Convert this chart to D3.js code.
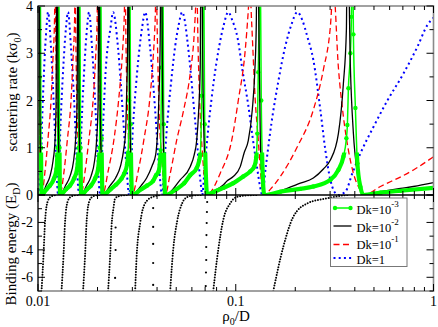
<!DOCTYPE html>
<html><head><meta charset="utf-8">
<script src="https://cdn.jsdelivr.net/npm/d3@7"></script>
<style>
body{margin:0;background:#fff}
svg{display:block}
text{font-family:"Liberation Serif","Times New Roman",serif;fill:#000}
</style>
</head><body>
<svg id="c" width="438" height="327"></svg>
<script>
// ---------------- data (rho0/D, value) ----------------
const dk3 = [ // Dk=1e-3 (green)
[0.01000,0.6],[0.01012,1.2],[0.01018,2.5],[0.01024,6],[0.01036,1.0],[0.01042,0],
[0.01104,0.12],[0.01150,0.2],[0.01205,0.35],[0.01241,0.55],[0.01255,1.0],[0.01263,2.2],[0.01270,6],[0.01285,1.0],[0.01292,0],
[0.01386,0.12],[0.01452,0.2],[0.01522,0.35],[0.01576,0.55],[0.01604,1.0],[0.01613,2.2],[0.01622,6],[0.01641,1.0],[0.01651,0],
[0.01771,0.12],[0.01855,0.2],[0.01944,0.35],[0.02013,0.55],[0.02048,1.0],[0.02060,2.2],[0.02072,6],[0.02097,1.2],[0.02121,0],
[0.02329,0.12],[0.02483,0.22],[0.02647,0.35],[0.02726,0.45],[0.02823,0.65],[0.02856,0.9],[0.02889,2.0],[0.02906,6],[0.02940,1.5],[0.02992,0],
[0.03323,0.12],[0.03564,0.2],[0.03822,0.3],[0.03958,0.42],[0.04075,0.5],[0.04171,0.95],[0.04220,2.7],[0.04270,6],[0.04320,1.5],[0.04396,0],
[0.04998,0.12],[0.05486,0.25],[0.05884,0.42],[0.06347,0.57],[0.06611,0.85],[0.06728,2.1],[0.06806,4],[0.06846,6],[0.06967,1.5],[0.07173,0],
[0.07428,0.03],[0.08644,0.15],[0.09713,0.25],[0.1091,0.39],[0.1184,0.5],[0.1241,0.6],[0.1270,0.8],[0.1285,1.3],[0.1300,2.6],[0.1315,4.2],[0.1323,6],[0.1346,2.0],[0.1370,0.4],[0.1394,0],
[0.1680,0.07],[0.2121,0.13],[0.2468,0.18],[0.3009,0.32],[0.3304,0.53],[0.3502,0.81],[0.3627,1.2],[0.3669,1.48],[0.3712,2.26],[0.3800,3.0],[0.3844,3.77],[0.3889,6],[0.3935,3.4],[0.4028,1.84],[0.4123,0.67],[0.4270,0.17],[0.4421,0],
[0.5391,0.05],[0.6806,0.09],[1.000,0.15]
];
const dk2 = [ // Dk=1e-2 (black)
[0.01000,2.2],[0.01012,6],[0.01024,1.6],[0.01042,0],
[0.01098,0.2],[0.01150,0.4],[0.01191,0.72],[0.01219,1.15],[0.01234,1.9],[0.01248,6],[0.01263,2.0],[0.01277,0.5],[0.01292,0],
[0.01378,0.2],[0.01452,0.4],[0.01513,0.72],[0.01548,1.15],[0.01576,1.9],[0.01594,6],[0.01613,2.0],[0.01632,0.5],[0.01651,0],
[0.01760,0.2],[0.01855,0.4],[0.01932,0.72],[0.01978,1.15],[0.02013,1.9],[0.02037,6],[0.02060,2.2],[0.02097,0.5],[0.02121,0],
[0.02315,0.2],[0.02468,0.36],[0.02617,0.62],[0.02710,0.95],[0.02774,1.35],[0.02806,2.1],[0.02839,3.2],[0.02856,6],[0.02906,2.0],[0.02957,0.5],[0.02992,0],
[0.03323,0.2],[0.03543,0.36],[0.03778,0.62],[0.03935,0.85],[0.04075,1.9],[0.04147,3.2],[0.04196,6],[0.04270,2.0],[0.04345,0.5],[0.04396,0],
[0.05236,0.32],[0.05884,0.6],[0.06164,0.85],[0.06347,1.16],[0.06496,1.8],[0.06611,2.7],[0.06689,6],[0.06846,2.0],[0.07008,0.5],[0.07173,0],
[0.07428,0.04],[0.08644,0.21],[0.09057,0.3],[0.09713,0.39],[0.1054,0.6],[0.1104,0.9],[0.1157,1.15],[0.1212,1.8],[0.1248,2.6],[0.1270,3.6],[0.1285,6],[0.1308,3.8],[0.1331,1.2],[0.1362,0.3],[0.1394,0],
[0.1680,0.09],[0.2121,0.25],[0.2468,0.36],[0.2774,0.55],[0.3009,0.74],[0.3304,1.3],[0.3502,2.36],[0.3627,3.5],[0.3669,6],[0.3800,2.7],[0.3935,1.3],[0.4123,0.46],[0.4270,0.15],[0.4421,0],
[0.5391,0.07],[0.6806,0.14],[0.7920,0.18],[1.000,0.26]
];
const dk1 = [ // Dk=1e-1 (red dashed)
[0.01000,2.6],[0.01012,1.5],[0.01024,0.6],[0.01036,0.12],[0.01042,0],
[0.01085,0.5],[0.01124,1.2],[0.01164,2.0],[0.01191,2.9],[0.01212,3.7],[0.01219,4.4],[0.01234,3.0],[0.01248,1.7],[0.01263,0.95],[0.01277,0.4],[0.01285,0.1],[0.01292,0],
[0.01354,0.5],[0.01410,1.2],[0.01469,2.0],[0.01504,2.9],[0.01531,3.7],[0.01539,4.4],[0.01557,3.0],[0.01576,1.7],[0.01604,0.95],[0.01622,0.4],[0.01641,0.1],[0.01651,0],
[0.01730,0.5],[0.01812,1.2],[0.01899,2.0],[0.01955,2.9],[0.01990,3.7],[0.02001,4.4],[0.02025,3.0],[0.02048,1.7],[0.02072,0.95],[0.02097,0.4],[0.02109,0.1],[0.02121,0],
[0.02262,0.5],[0.02426,1.2],[0.02556,2.0],[0.02663,2.9],[0.02726,3.7],[0.02758,4.4],[0.02790,3.0],[0.02839,1.7],[0.02889,0.95],[0.02940,0.4],[0.02975,0.1],[0.02992,0],
[0.03209,0.5],[0.03441,1.2],[0.03669,2.0],[0.03822,2.9],[0.03912,3.7],[0.03958,4.4],[0.04028,3.0],[0.04099,1.7],[0.04196,0.95],[0.04295,0.4],[0.04345,0.1],[0.04396,0],
[0.04660,0.45],[0.05027,1.16],[0.05454,1.8],[0.05884,2.57],[0.06164,3.4],[0.06273,4.0],[0.06347,4.4],[0.06459,3.0],[0.06611,1.7],[0.06767,0.95],[0.06927,0.4],[0.07049,0.1],[0.07173,0],
[0.07428,0.05],[0.08347,0.46],[0.09545,1.16],[0.1030,2.0],[0.1117,3.07],[0.1157,3.9],[0.1177,4.4],[0.1205,3.6],[0.1255,2.0],[0.1300,1.16],[0.1331,0.55],[0.1362,0.12],[0.1394,0],
[0.1495,0.12],[0.1680,0.39],[0.2048,1.02],[0.2468,1.8],[0.2774,2.65],[0.3009,3.56],[0.3116,4.4],[0.3304,2.7],[0.3502,1.66],[0.3712,0.95],[0.3935,0.46],[0.4270,0.1],[0.4421,0],
[0.5391,0.18],[0.7920,0.53],[1.000,0.81]
];
const dk0 = [ // Dk=1 (blue dotted)
[0.01000,0.8],[0.01012,0.3],[0.01024,0],
[0.01048,1.5],[0.01072,2.6],[0.01104,3.55],[0.01124,3.87],[0.01164,3.1],[0.01205,1.8],[0.01241,0.55],[0.01263,0],
[0.01300,1.5],[0.01338,2.6],[0.01386,3.55],[0.01419,3.87],[0.01469,3.1],[0.01531,1.8],[0.01576,0.55],[0.01613,0],
[0.01661,1.5],[0.01710,2.6],[0.01771,3.55],[0.01812,3.87],[0.01877,3.1],[0.01955,1.8],[0.02013,0.55],[0.02060,0],
[0.02134,1.5],[0.02197,2.6],[0.02329,3.55],[0.02397,3.87],[0.02541,3.1],[0.02678,1.8],[0.02806,0.55],[0.02889,0],
[0.03027,1.5],[0.03172,2.6],[0.03362,3.55],[0.03482,3.87],[0.03691,3.1],[0.03912,1.8],[0.04099,0.55],[0.04245,0],
[0.04345,0.6],[0.04500,1.5],[0.04714,2.4],[0.04940,3.15],[0.05145,3.6],[0.05360,3.87],[0.05518,3.7],[0.05681,3.3],[0.05918,2.6],[0.06129,1.9],[0.06347,1.2],[0.06534,0.55],[0.06689,0.15],[0.06767,0],
[0.06967,0.6],[0.07300,1.5],[0.07738,2.4],[0.08250,3.15],[0.08695,3.6],[0.09163,3.87],[0.09600,3.7],[0.1024,3.3],[0.1085,2.6],[0.1157,1.9],[0.1219,1.2],[0.1285,0.55],[0.1331,0.15],[0.1362,0],
[0.1419,0.6],[0.1513,1.5],[0.1641,2.4],[0.1781,3.15],[0.1910,3.6],[0.2048,3.87],[0.2171,3.7],[0.2302,3.35],[0.2468,2.86],[0.2678,1.8],[0.2839,0.95],[0.3009,0.32],[0.3153,0.07],[0.3304,0],
[0.3585,0.07],[0.3889,0.46],[0.4270,0.88],[0.4968,1.44],[0.5849,2.0],[0.7049,2.57],[0.8298,3.14],[0.9325,3.6],[1.000,3.75]
];
// binding energies (rho0/D, E/E_D)
const boundStates = [
[[0.01042,-7],[0.01066,-4.4],[0.01085,-2.0],[0.01117,-0.5],[0.01150,-0.17],[0.01191,-0.05],[0.01248,0]],
[[0.01315,-7],[0.01346,-4.4],[0.01370,-2.0],[0.01410,-0.5],[0.01452,-0.17],[0.01513,-0.05],[0.01594,0]],
[[0.01690,-7],[0.01730,-4.4],[0.01760,-2.0],[0.01812,-0.5],[0.01866,-0.17],[0.01944,-0.05],[0.02037,0]],
[[0.02262,-7],[0.02315,-4.5],[0.02356,-2.2],[0.02411,-0.9],[0.02454,-0.25],[0.02617,-0.05],[0.02856,0]],
[[0.03099,-7],[0.03153,-4.5],[0.03285,-2.06],[0.03482,-0.6],[0.03822,-0.12],[0.04196,0]],
[[0.04660,-7],[0.04826,-4],[0.05056,-1.9],[0.05360,-0.6],[0.05681,-0.15],[0.06164,-0.03],[0.06689,0]],
[[0.07693,-7],[0.08155,-4],[0.08644,-1.82],[0.09379,-0.6],[0.1024,-0.12],[0.1157,-0.02],[0.1285,0]],
[[0.1548,-7],[0.1740,-3.77],[0.1955,-1.58],[0.2302,-0.61],[0.2906,-0.24],[0.3304,-0.08],[0.3669,0]]
];
const sparseStates = [
[0.02468,-2.37],[0.02468,-4.01],[0.02454,-6.05],
[0.03822,-0.95],[0.03822,-2.33],[0.03822,-3.57],[0.03822,-4.96],[0.03822,-6.56],
[0.0717,-0.51],[0.0715,-1.24],[0.0713,-2.04],[0.0711,-2.92],[0.0709,-3.79],[0.0709,-4.74],[0.0707,-5.65],[0.0705,-6.64]
];
const xTickLabels = [[0.01,"0.01"],[0.1,"0.1"],[1,"1"]];
const yTopLabels = [0,1,2,3,4];
const yBotLabels = [-2,-4,-6];
const legendItems = [
 {key:"dk3", base:"Dk=10", sup:"-3"},
 {key:"dk2", base:"Dk=10", sup:"-2"},
 {key:"dk1", base:"Dk=10", sup:"-1"},
 {key:"dk0", base:"Dk=1", sup:""}
];

// ---------------- drawing ----------------
const svg = d3.select("#c");
const L=38, R=433.5, T=6, M=195, B=291;
const x = d3.scaleLog().domain([0.01,1]).range([L,R]);
const yT = d3.scaleLinear().domain([0,4]).range([M,T]);
const yB = d3.scaleLinear().domain([-7,0]).range([B,M]);

const defs = svg.append("defs");
defs.append("clipPath").attr("id","ct").append("rect").attr("x",L).attr("y",T).attr("width",R-L).attr("height",M-T);
defs.append("clipPath").attr("id","cband").append("rect").attr("x",L).attr("y",yT(0.9)).attr("width",R-L).attr("height",M-yT(0.9));
defs.append("clipPath").attr("id","cb").append("rect").attr("x",L).attr("y",M).attr("width",R-L).attr("height",B-M);

const style = {
 dk3:{stroke:"#00ff00",w:1.5,dash:null},
 dk2:{stroke:"#000",w:1.3,dash:null},
 dk1:{stroke:"#ff0000",w:1.3,dash:"6,3.5"},
 dk0:{stroke:"#0000ff",w:2,dash:"2,3.2"}
};
const series = {dk3,dk2,dk1,dk0};
const lineT = d3.line().x(d=>x(d[0])).y(d=>yT(d[1])).curve(d3.curveMonotoneX);

const gT = svg.append("g").attr("clip-path","url(#ct)");
["dk0","dk1","dk3","dk2"].forEach(k=>{
  const s=style[k];
  if(k==="dk3"){
    svg.append("g").attr("clip-path","url(#cband)").append("path").datum(series[k]).attr("d",lineT)
      .attr("fill","none").attr("stroke",s.stroke).attr("stroke-width",4.2).attr("stroke-linejoin","round");
  }
  gT.append("path").datum(series[k]).attr("d",lineT).attr("fill","none")
    .attr("stroke",s.stroke).attr("stroke-width",s.w).attr("stroke-dasharray",s.dash);
  if(k==="dk3"){
    gT.selectAll("circle.g").data(series[k].filter(d=>d[1]<5)).enter().append("circle")
      .attr("cx",d=>x(d[0])).attr("cy",d=>yT(d[1])).attr("r",2.2).attr("fill","#00ff00");
  }
});

// lower panel
const lineB = d3.line().x(d=>x(d[0])).y(d=>yB(d[1])).curve(d3.curveMonotoneX);
const gB = svg.append("g").attr("clip-path","url(#cb)");
boundStates.forEach(c=>{
  gB.append("path").datum(c).attr("d",lineB).attr("fill","none").attr("stroke","#000")
    .attr("stroke-width",2).attr("stroke-linecap","round").attr("stroke-dasharray","0,2.7");
});
gB.selectAll("circle.s").data(sparseStates).enter().append("circle")
  .attr("cx",d=>x(d[0])).attr("cy",d=>yB(d[1])).attr("r",1.1).attr("fill","#000");

// frame
const ax = svg.append("g").attr("fill","none");
ax.append("rect").attr("x",L).attr("y",T).attr("width",R-L).attr("height",B-T).attr("stroke","#8a8a8a").attr("stroke-width",1.6);
ax.append("line").attr("x1",L).attr("x2",L).attr("y1",T).attr("y2",B).attr("stroke","#000").attr("stroke-width",1);
ax.append("line").attr("x1",L).attr("x2",R).attr("y1",M).attr("y2",M).attr("stroke","#000").attr("stroke-width",1.6);

// x ticks
const tk = ax.append("g").attr("stroke","#000").attr("stroke-width",1);
x.ticks().forEach(t=>{
  const major = Math.abs(Math.log10(t)-Math.round(Math.log10(t)))<1e-6;
  const len = major?7:4, px=x(t);
  [[T,1],[B,-1],[M,1],[M,-1]].forEach(([y0,dir])=>{
    tk.append("line").attr("x1",px).attr("x2",px).attr("y1",y0).attr("y2",y0+dir*len);
  });
});
// y ticks
yT.ticks(8).forEach(t=>{
  const major = Number.isInteger(t), len = major?7:4, py=yT(t);
  tk.append("line").attr("x1",L).attr("x2",L+len).attr("y1",py).attr("y2",py);
  tk.append("line").attr("x1",R).attr("x2",R-len).attr("y1",py).attr("y2",py);
});
yB.ticks(7).forEach(t=>{
  const major = t%2===0, len = major?7:4, py=yB(t);
  tk.append("line").attr("x1",L).attr("x2",L+len).attr("y1",py).attr("y2",py);
  tk.append("line").attr("x1",R).attr("x2",R-len).attr("y1",py).attr("y2",py);
});

// tick labels
svg.selectAll("text.xl").data(xTickLabels).enter().append("text")
  .attr("x",d=>x(d[0])).attr("y",306).attr("text-anchor","middle").attr("font-size",14).text(d=>d[1]);
svg.selectAll("text.yl").data(yTopLabels).enter().append("text")
  .attr("x",33).attr("y",d=>yT(d)+5).attr("text-anchor","end").attr("font-size",14).text(d=>d);
svg.selectAll("text.yb").data(yBotLabels).enter().append("text")
  .attr("x",33).attr("y",d=>yB(d)+5).attr("text-anchor","end").attr("font-size",14).text(d=>d);

// axis titles
const t1 = svg.append("text").attr("transform","translate(17,92) rotate(-90)").attr("text-anchor","middle").attr("font-size",15);
t1.append("tspan").text("scattering rate (kσ");
t1.append("tspan").attr("font-size",10).attr("dy",4).text("0");
t1.append("tspan").attr("dy",-4).text(")");
const t2 = svg.append("text").attr("transform","translate(16,244) rotate(-90)").attr("text-anchor","middle").attr("font-size",15);
t2.append("tspan").text("Binding energy (E");
t2.append("tspan").attr("font-size",10).attr("dy",4).text("D");
t2.append("tspan").attr("dy",-4).text(")");
const t3 = svg.append("text").attr("x",236).attr("y",321).attr("text-anchor","middle").attr("font-size",15);
t3.append("tspan").text("ρ");
t3.append("tspan").attr("font-size",10).attr("dy",4).text("0");
t3.append("tspan").attr("dy",-4).text("/D");

// legend
const lg = svg.append("g");
lg.append("rect").attr("x",330.5).attr("y",198).attr("width",76.5).attr("height",68.5)
  .attr("fill","#fff").attr("stroke","#777").attr("stroke-width",1);
const rowY=[208,226,244.5,258], txtY=[214,232,249,264];
legendItems.forEach((it,i)=>{
  const s=style[it.key];
  lg.append("line").attr("x1",333.5).attr("x2",351.5).attr("y1",rowY[i]).attr("y2",rowY[i])
    .attr("stroke",s.stroke).attr("stroke-width",s.w).attr("stroke-dasharray",s.dash);
  if(it.key==="dk3"){
    [335,350.5].forEach(cx=>lg.append("circle").attr("cx",cx).attr("cy",rowY[i]).attr("r",2.2).attr("fill","#00ff00"));
  }
  const tx = lg.append("text").attr("x",356.5).attr("y",txtY[i]).attr("font-size",12.5);
  tx.append("tspan").text(it.base);
  if(it.sup) tx.append("tspan").attr("font-size",9).attr("dy",-7).text(it.sup);
});
</script>
</body></html>
